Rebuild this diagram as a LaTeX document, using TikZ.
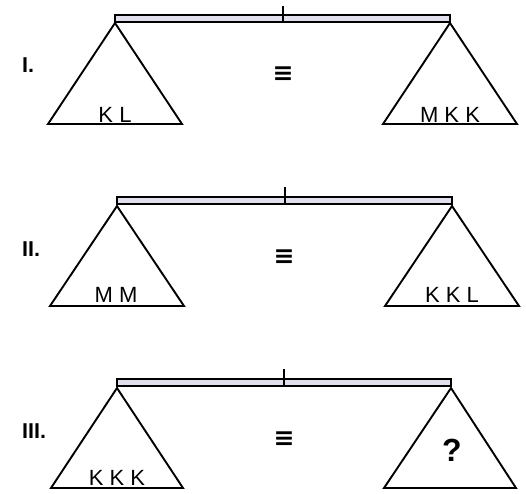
\documentclass[tikz,border=0pt]{standalone}
\usepackage{fontspec}
\setmainfont{Liberation Sans}
\newfontfamily\symfont{DejaVu Sans}
\definecolor{beamfill}{RGB}{226,223,236}
\tikzset{
  pan/.style={draw=black, line width=1.9pt, line join=miter},
  beam/.style={draw=black, fill=beamfill, line width=1.6pt},
  tickline/.style={draw=black, line width=1.5pt},
  weights/.style={inner sep=0pt, anchor=base, font=\fontsize{22}{24}\selectfont},
  rowlabel/.style={inner sep=0pt, anchor=base west, font=\fontsize{21.5}{24}\selectfont\bfseries},
  eqsign/.style={inner sep=0pt, font=\fontsize{25}{28}\symfont\bfseries},
  qmark/.style={inner sep=0pt, anchor=base, font=\fontsize{32}{34}\selectfont\bfseries}
}
\begin{document}
\begin{tikzpicture}[x=1pt,y=-1pt]
\useasboundingbox (0,0) rectangle (526,493);
% ---------- Scale I ----------
\draw[beam] (115,15) rectangle (450,22);
\draw[tickline] (283,6) -- (283,22);
\coordinate (a1) at (115,23);
\coordinate (b1) at (450,23);
\draw[pan] (a1) -- (48,124) -- (182,124) -- cycle;
\draw[pan] (b1) -- (383,124) -- (517,124) -- cycle;
\node[weights] (w1l) at (115,122) {K L};
\node[weights] (w1r) at (450,122) {M K K};
\node[rowlabel] (l1) at (22,72) {I.};
\node[eqsign] (e1) at (283,74) {≡};
% ---------- Scale II ----------
\draw[beam] (117,197) rectangle (452,204);
\draw[tickline] (285,187) -- (285,204);
\coordinate (a2) at (117,206);
\coordinate (b2) at (452,206);
\draw[pan] (a2) -- (50,306) -- (184,306) -- cycle;
\draw[pan] (b2) -- (385,306) -- (519,306) -- cycle;
\node[weights] (w2l) at (116,302) {M M};
\node[weights] (w2r) at (452,302) {K K L};
\node[rowlabel] (l2) at (22,256) {II.};
\node[eqsign] (e2) at (284,257) {≡};
% ---------- Scale III ----------
\draw[beam] (117,379) rectangle (451,386);
\draw[tickline] (284,369) -- (284,386);
\coordinate (a3) at (117,388);
\coordinate (b3) at (451,388);
\draw[pan] (a3) -- (51,488) -- (183,488) -- cycle;
\draw[pan] (b3) -- (384,488) -- (516,488) -- cycle;
\node[weights] (w3l) at (117,485) {K K K};
\node[qmark] (q3) at (452,461) {?};
\node[rowlabel] (l3) at (22,438) {III.};
\node[eqsign] (e3) at (284,439) {≡};
\end{tikzpicture}
\end{document}
